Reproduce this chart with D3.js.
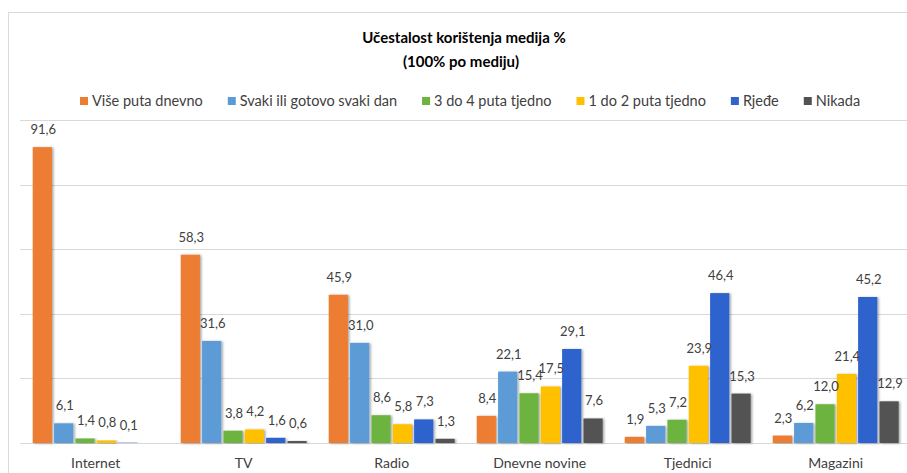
<!DOCTYPE html>
<html>
<head>
<meta charset="utf-8">
<script src="https://cdn.jsdelivr.net/npm/d3@7"></script>
<style>
  body { margin: 0; background: #fff; }
  svg { display: block; font-family: Lato, "Open Sans", sans-serif; }
</style>
</head>
<body>
<div id="chart"></div>
<script>
const categories = ['Internet', 'TV', 'Radio', 'Dnevne novine', 'Tjednici', 'Magazini'];
const seriesNames = ['Više puta dnevno', 'Svaki ili gotovo svaki dan', '3 do 4 puta tjedno', '1 do 2 puta tjedno', 'Rjeđe', 'Nikada'];
const colors = ['#ED7D31', '#5B9BD5', '#6DB33F', '#FFC000', '#2F62CC', '#525252'];

// one array per series, values in category order
const visePuta = [91.6, 58.3, 45.9, 8.4, 1.9, 2.3];
const svakiDan = [6.1, 31.6, 31.0, 22.1, 5.3, 6.2];
const triDoCetiri = [1.4, 3.8, 8.6, 15.4, 7.2, 12.0];
const jedanDoDva = [0.8, 4.2, 5.8, 17.5, 23.9, 21.4];
const rjede = [0.1, 1.6, 7.3, 29.1, 46.4, 45.2];
const nikada = [null, 0.6, 1.3, 7.6, 15.3, 12.9];
const yTicks = [0, 20, 40, 60, 80, 100];

const series = [visePuta, svakiDan, triDoCetiri, jedanDoDva, rjede, nikada];

const width = 907, height = 473;

const svg = d3.select('#chart').append('svg')
    .attr('width', width)
    .attr('height', height);

// drop shadow like the office chart
const defs = svg.append('defs');
const f = defs.append('filter').attr('id', 'shadow')
    .attr('x', '-20%').attr('y', '-5%').attr('width', '150%').attr('height', '110%');
f.append('feDropShadow')
    .attr('dx', 1.5).attr('dy', 0.5)
    .attr('stdDeviation', 0.8)
    .attr('flood-color', '#000')
    .attr('flood-opacity', 0.35);

// outer frame
svg.append('rect')
    .attr('x', 8.5).attr('y', 12.5)
    .attr('width', 1000).attr('height', 600)
    .attr('fill', 'none')
    .attr('stroke', '#d9d9d9');

const x0 = d3.scaleBand()
    .domain(categories)
    .range([20, 911.4])
    .paddingInner(0.149)
    .paddingOuter(0.086);

const x1 = d3.scaleBand()
    .domain(d3.range(seriesNames.length))
    .range([0, x0.bandwidth()])
    .paddingInner(0.1);

const y = d3.scaleLinear()
    .domain([0, 100])
    .range([443, 120]);

// gridlines
svg.append('g')
    .selectAll('line')
    .data(yTicks)
    .enter()
    .append('line')
    .attr('x1', 20)
    .attr('x2', width)
    .attr('y1', (d) => Math.round(y(d)) + 0.5)
    .attr('y2', (d) => Math.round(y(d)) + 0.5)
    .attr('stroke', '#d9d9d9')
    .attr('stroke-width', 1);

// flatten
const cells = [];
categories.forEach((c, ci) => {
    series.forEach((s, si) => {
        if (s[ci] !== null) cells.push({ cat: c, si: si, value: s[ci] });
    });
});

const groups = svg.append('g');

groups.selectAll('rect')
    .data(cells)
    .enter()
    .append('rect')
    .attr('x', (d) => x0(d.cat) + x1(d.si))
    .attr('y', (d) => y(d.value))
    .attr('width', x1.bandwidth())
    .attr('height', (d) => y(0) - y(d.value))
    .attr('fill', (d) => colors[d.si])
    .attr('filter', 'url(#shadow)');

groups.selectAll('text')
    .data(cells)
    .enter()
    .append('text')
    .attr('x', (d) => x0(d.cat) + x1(d.si) + x1.bandwidth() / 2 + 1)
    .attr('y', (d) => y(d.value) - 13)
    .attr('text-anchor', 'middle')
    .attr('font-size', '13px')
    .attr('fill', '#404040')
    .text((d) => d3.format('.1f')(d.value).replace('.', ','));

// category axis labels
const xAxis = d3.axisBottom(x0).tickSize(0).tickPadding(15);
const ax = svg.append('g')
    .attr('transform', `translate(0,${y(0)})`)
    .call(xAxis);
ax.select('.domain').remove();
ax.selectAll('text')
    .attr('font-family', 'Lato, "Open Sans", sans-serif')
    .attr('font-size', '14px')
    .attr('fill', '#404040');

// title
svg.append('text')
    .attr('x', 464).attr('y', 43)
    .attr('text-anchor', 'middle')
    .attr('font-size', '15px')
    .attr('font-weight', 'bold')
    .attr('fill', '#000')
    .text('Učestalost korištenja medija %');
svg.append('text')
    .attr('x', 461).attr('y', 67)
    .attr('text-anchor', 'middle')
    .attr('font-size', '15px')
    .attr('font-weight', 'bold')
    .attr('fill', '#000')
    .text('(100% po mediju)');

// legend
const legend = svg.append('g');
let lx = 80;
seriesNames.forEach((name, i) => {
    legend.append('rect')
        .attr('x', lx).attr('y', 97)
        .attr('width', 8).attr('height', 8)
        .attr('fill', colors[i]);
    const t = legend.append('text')
        .attr('x', lx + 12).attr('y', 106)
        .attr('font-size', '14.5px')
        .attr('fill', '#404040')
        .text(name);
    lx += 12 + t.node().getComputedTextLength() + 25;
});
</script>
</body>
</html>
